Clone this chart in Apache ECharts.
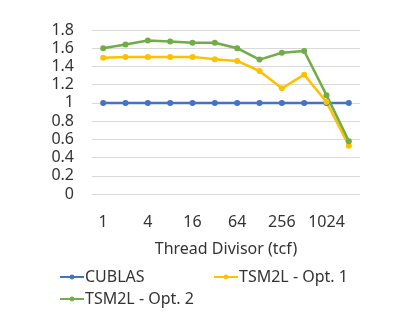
<!DOCTYPE html>
<html><head><meta charset="utf-8">
<script src="https://cdn.jsdelivr.net/npm/echarts@6/dist/echarts.min.js"></script>
<style>html,body{margin:0;padding:0;background:#fff}#c{width:416px;height:314px}</style>
</head><body><div id="c"></div>
<script>
const categories = ['1','2','4','8','16','32','64','128','256','512','1024','2048'];
const cublas = [1,1,1,1,1,1,1,1,1,1,1,1];
const opt1 = [1.495,1.505,1.505,1.505,1.505,1.48,1.46,1.35,1.16,1.31,1.01,0.53];
const opt2 = [1.60,1.64,1.685,1.675,1.66,1.66,1.60,1.475,1.55,1.57,1.085,0.58];
const yTicks = {min:0, max:1.8, interval:0.2};
const font = 'Noto Sans';
const fs = 16;
const tc = '#333333';
const chart = echarts.init(document.getElementById('c'));
function s(name, data, color){
  return {name, type:'line', data, symbol:'circle', symbolSize:6, showSymbol:true,
    lineStyle:{width:2.5,color}, itemStyle:{color}, emphasis:{disabled:true}};
}
const legendText = {fontSize:fs,color:tc,fontFamily:font,padding:[0,0,0,-4]};
chart.setOption({
  animation:false,
  textStyle:{fontFamily:font},
  grid:{left:92,right:56,top:30,bottom:120},
  xAxis:{type:'category',data:categories,boundaryGap:true,
    name:'Thread Divisor (tcf)',nameLocation:'middle',nameGap:47,
    nameTextStyle:{fontSize:fs,color:tc,fontFamily:font},
    axisLine:{show:false},axisTick:{show:false},
    axisLabel:{interval:1,fontSize:fs,color:tc,margin:20,fontFamily:font}},
  yAxis:{type:'value',min:yTicks.min,max:yTicks.max,interval:yTicks.interval,
    axisLabel:{fontSize:fs,color:tc,margin:18,fontFamily:font,
      formatter:v=>String(Math.round(v*10)/10)},
    splitLine:{lineStyle:{color:'#d9d9d9',width:1}},axisLine:{show:false},axisTick:{show:false}},
  legend:[
    {data:['CUBLAS'],left:54,top:264,itemWidth:24,itemHeight:6,textStyle:legendText},
    {data:['TSM2L - Opt. 1'],left:208,top:264,itemWidth:24,itemHeight:6,textStyle:legendText},
    {data:['TSM2L - Opt. 2'],left:54,top:286,itemWidth:24,itemHeight:6,textStyle:legendText}
  ],
  series:[s('CUBLAS',cublas,'#4472C4'),s('TSM2L - Opt. 1',opt1,'#FFC000'),s('TSM2L - Opt. 2',opt2,'#70AD47')]
});
</script></body></html>
